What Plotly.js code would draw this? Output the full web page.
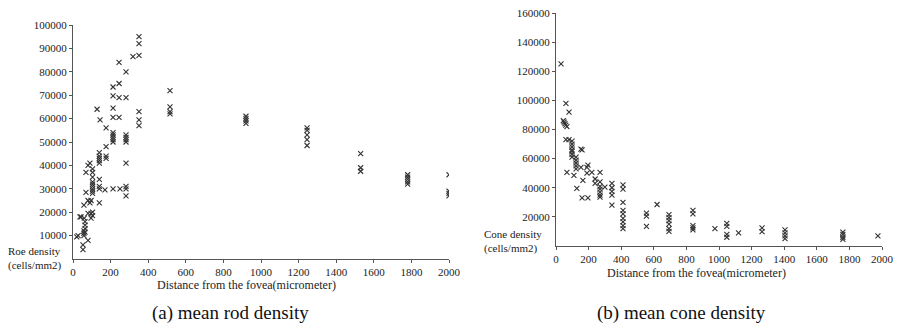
<!DOCTYPE html>
<html>
<head>
<meta charset="utf-8">
<script src="https://cdn.plot.ly/plotly-3.0.1.min.js"></script>
<style>
html,body{margin:0;padding:0;background:#fff;}
#chart{width:903px;height:328px;}
</style>
</head>
<body>
<div id="chart"></div>
<script>
// ---- Rod density data (distance from fovea in micrometer, cells/mm2) ----
const rodX = [
  20, 27, 37, 43, 53, 53,
  58, 58, 58, 58, 60,
  64, 64, 64, 64, 69, 69,
  80, 80, 80, 80, 90, 90,
  96, 96, 96,
  104, 104, 104, 104, 104, 104, 104, 104, 104, 104, 104,
  128,
  140, 140, 140, 140, 140, 140, 140, 140, 140, 144,
  170, 176, 176, 176, 176,
  213, 213, 213, 213, 213, 213, 213, 213, 213, 213,
  245, 245, 245, 245, 250,
  282, 282, 282, 282, 282, 282, 282, 282, 282, 282,
  319,
  351, 351, 351, 351, 351, 351,
  516, 516, 516, 516,
  920, 920, 920, 920,
  1245, 1245, 1245, 1245, 1245,
  1530, 1530, 1530,
  1780, 1780, 1780, 1780, 1780,
  2000, 2000, 2000, 2000
];
const rodY = [
  9500, 10000, 18000, 18000, 6000, 4000,
  10000, 11000, 12000, 23000, 17500,
  13000, 14500, 16000, 11500, 28500, 37000,
  8000, 19500, 25000, 40000, 24000, 41000,
  19500, 17500, 25000,
  28000, 29000, 30000, 31000, 32000, 33000, 35000, 37000, 38500, 20000, 18500,
  64000,
  41000, 42000, 43000, 44000, 45500, 30000, 31000, 34000, 24000, 59500,
  29500, 48000, 44000, 43000, 56000,
  73500, 69700, 64500, 60500, 54000, 53000, 52000, 51000, 50000, 30000,
  84000, 75000, 69000, 60500, 30000,
  80000, 69000, 53000, 52000, 51000, 50000, 41000, 31000, 30000, 27000,
  86500,
  95000, 92000, 87000, 63000, 59500, 57000,
  72000, 65000, 63000, 62000,
  61000, 60000, 59000, 58000,
  56000, 55000, 53000, 51000, 48500,
  45000, 39000, 37500,
  36000, 35000, 34000, 33000, 32000,
  36000, 29000, 28000, 27000
];

// ---- Cone density data ----
const coneX = [
  31, 61, 80,
  45, 50, 55, 60, 67,
  61, 80,
  98, 98, 98, 98, 98, 98, 98,
  153, 160,
  123, 123, 123, 123, 123,
  67, 110, 153, 190, 190, 165, 196, 220,
  128, 160, 196,
  240, 240,
  270, 270, 270, 270, 270, 270, 270,
  300,
  343, 343, 343, 343, 343,
  411, 411, 411, 411, 411, 411, 411, 411, 411,
  555, 555, 555,
  620,
  693, 693, 693, 693, 693, 693,
  840, 840, 840, 840, 840,
  975,
  1048, 1048, 1048, 1048,
  1120,
  1264, 1264,
  1405, 1405, 1405, 1405,
  1760, 1760, 1760, 1760,
  1975
];
const coneY = [
  125000, 98000, 92000,
  86000, 85000, 84000, 83000, 82000,
  73000, 73000,
  72000, 70000, 68000, 66000, 65000, 63000, 61000,
  66500, 66000,
  61000, 59000, 57000, 55000, 53000,
  50500, 48500, 54000, 54000, 50000, 45000, 55500, 50500,
  39500, 33000, 33000,
  46000, 43000,
  50500, 44000, 41000, 39000, 37000, 35000, 33500,
  40500,
  43000, 40000, 37500, 35000, 28000,
  42000, 39000, 30000, 24500, 22000, 19000, 16500, 14000, 12000,
  22500, 20500, 13500,
  28500,
  21500, 19500, 17500, 15000, 12000, 10000,
  24500, 22000, 14000, 12400, 11000,
  12000,
  15500, 13500, 8000, 6000,
  9000,
  12400, 9800,
  11000, 9000, 7000, 5000,
  9600, 8000, 6000, 4500,
  6900
];

// ---- tick labels ----
const xTicks = [0, 200, 400, 600, 800, 1000, 1200, 1400, 1600, 1800, 2000];
const rodYTicks = [10000, 20000, 30000, 40000, 50000, 60000, 70000, 80000, 90000, 100000];
const coneYTicks = [20000, 40000, 60000, 80000, 100000, 120000, 140000, 160000];

const W = 903, H = 328;
const px = v => v / W;
const py = v => 1 - v / H;

const FONT = '"Liberation Serif", "Times New Roman", "DejaVu Serif", serif';
const INK = '#222';

const markerStyle = {
  symbol: 'x-thin',
  size: 5,
  color: INK,
  line: {width: 1.1, color: '#333'}
};

const traces = [
  {x: rodX, y: rodY, type: 'scatter', mode: 'markers', marker: markerStyle, xaxis: 'x', yaxis: 'y', hoverinfo: 'x+y'},
  {x: coneX, y: coneY, type: 'scatter', mode: 'markers', marker: markerStyle, xaxis: 'x2', yaxis: 'y2', hoverinfo: 'x+y'}
];

const axisBase = {
  showgrid: false,
  zeroline: false,
  showline: true,
  linecolor: '#555',
  linewidth: 1,
  ticks: 'outside',
  ticklen: 3,
  tickwidth: 1,
  tickcolor: '#555',
  tickfont: {family: FONT, size: 11, color: INK},
  tickformat: 'd',
  fixedrange: true
};

const layout = {
  width: W,
  height: H,
  margin: {l: 0, r: 0, t: 0, b: 0},
  paper_bgcolor: '#fff',
  plot_bgcolor: '#fff',
  showlegend: false,
  xaxis: Object.assign({}, axisBase, {
    domain: [px(73), px(449)], range: [0, 2000], tickvals: xTicks, anchor: 'y'
  }),
  yaxis: Object.assign({}, axisBase, {
    domain: [py(259), py(25)], range: [0, 100000], tickvals: rodYTicks, anchor: 'x'
  }),
  xaxis2: Object.assign({}, axisBase, {
    domain: [px(556), px(882)], range: [0, 2000], tickvals: xTicks, anchor: 'y2'
  }),
  yaxis2: Object.assign({}, axisBase, {
    domain: [py(246), py(13)], range: [0, 160000], tickvals: coneYTicks, anchor: 'x2'
  }),
  annotations: [
    {text: 'Distance from the fovea(micrometer)', xref: 'paper', yref: 'paper',
     x: px(246), y: py(285), xanchor: 'center', yanchor: 'middle', showarrow: false,
     font: {family: FONT, size: 12, color: INK}},
    {text: 'Distance from the fovea(micrometer)', xref: 'paper', yref: 'paper',
     x: px(696), y: py(273), xanchor: 'center', yanchor: 'middle', showarrow: false,
     font: {family: FONT, size: 12, color: INK}},
    {text: 'Roe density<br>(cells/mm2)', xref: 'paper', yref: 'paper',
     x: px(6), y: py(258), xanchor: 'left', yanchor: 'middle', align: 'left', showarrow: false,
     font: {family: FONT, size: 11, color: INK}},
    {text: 'Cone density<br>(cells/mm2)', xref: 'paper', yref: 'paper',
     x: px(482), y: py(241), xanchor: 'left', yanchor: 'middle', align: 'left', showarrow: false,
     font: {family: FONT, size: 11, color: INK}},
    {text: '(a) mean rod density', xref: 'paper', yref: 'paper',
     x: px(230), y: py(313), xanchor: 'center', yanchor: 'middle', showarrow: false,
     font: {family: FONT, size: 19, color: '#111'}},
    {text: '(b) mean cone density', xref: 'paper', yref: 'paper',
     x: px(681), y: py(313), xanchor: 'center', yanchor: 'middle', showarrow: false,
     font: {family: FONT, size: 19, color: '#111'}}
  ]
};

Plotly.newPlot('chart', traces, layout, {staticPlot: true, displayModeBar: false});
</script>
</body>
</html>
